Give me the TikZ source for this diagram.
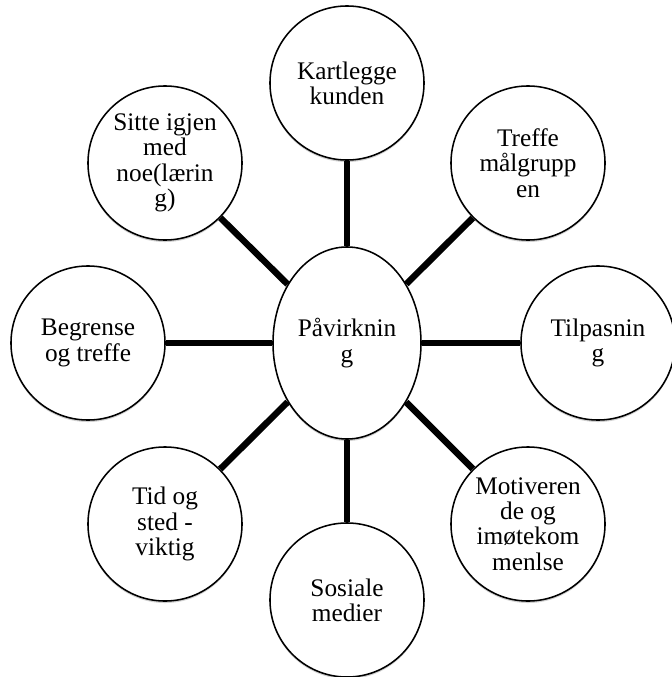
\documentclass[tikz,border=0pt]{standalone}
\usepackage{fontspec}
\setmainfont{Liberation Serif}
\usetikzlibrary{shapes.geometric}
\usetikzlibrary{shadows}

\begin{document}
\begin{tikzpicture}[
    x=0.025cm, y=-0.025cm,
    softshadow/.style={drop shadow={shadow xshift=0pt, shadow yshift=-0.05cm,
      fill=black, opacity=0.18}},
    topic/.style={circle, draw=black, line width=1.1pt, fill=white,
      minimum size=3.85cm, inner sep=0pt, align=center, softshadow,
      font=\fontsize{18pt}{18pt}\selectfont},
    hub/.style={ellipse, draw=black, line width=1.1pt, fill=white,
      minimum width=3.7cm, minimum height=4.8cm, inner sep=0pt,
      align=center, softshadow, font=\fontsize{18pt}{18pt}\selectfont},
    link/.style={line width=4.6pt, draw=black},
  ]
    \useasboundingbox (0,0) rectangle (671,677);

    % Hub in the middle
    \node[hub] (pav) at (347,343) {Påvirknin\\g};

    % Topics round the hub
    \node[topic] (kart)  at (347,83)  {Kartlegge\\kunden};
    \node[topic] (treff) at (528,163) {Treffe\\målgrupp\\en};
    \node[topic] (tilp)  at (598,343) {Tilpasnin\\g};
    \node[topic] (motiv) at (528,524) {Motiveren\\de og\\imøtekom\\menlse};
    \node[topic] (sos)   at (347,600) {Sosiale\\medier};
    \node[topic] (tid)   at (165,524) {Tid og\\sted -\\viktig};
    \node[topic] (begr)  at (88,343)  {Begrense\\og treffe};
    \node[topic] (sitte) at (165,163) {Sitte igjen\\med\\noe(lærin\\g)};

    % Spokes
    \foreach \t in {kart,treff,tilp,motiv,sos,tid,begr,sitte}
      \draw[link] (pav) -- (\t);

  \end{tikzpicture}
\end{document}
